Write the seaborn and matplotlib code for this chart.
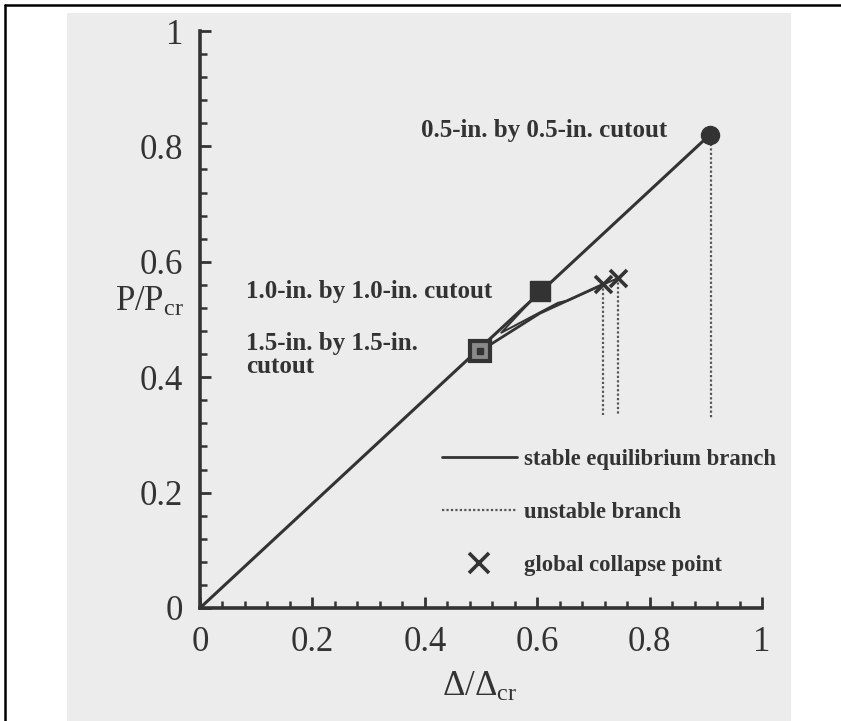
import matplotlib
matplotlib.use("Agg")
import matplotlib.pyplot as plt
import seaborn as sns
import numpy as np
import pandas as pd
from matplotlib.lines import Line2D
from matplotlib.patches import Rectangle

# ---- data ----
stable_x = [0.0, 0.907]
stable_y = [0.0, 0.820]

branch15_x = [0.498, 0.605, 0.717]
branch15_y = [0.445, 0.511, 0.561]

branch10_x = [0.605, 0.536, 0.637, 0.655, 0.744]
branch10_y = [0.549, 0.477, 0.529, 0.533, 0.572]

circle_pt = (0.907, 0.820)      # 0.5-in cutout
square_pt = (0.605, 0.549)      # 1.0-in cutout
boxdot_pt = (0.498, 0.445)      # 1.5-in cutout

collapse_x = [0.717, 0.744]
collapse_y = [0.561, 0.572]

unstable_x = [0.717, 0.744, 0.909]
unstable_top = [0.561, 0.572, 0.820]
unstable_bot = [0.335, 0.335, 0.330]

xticks = [0, 0.2, 0.4, 0.6, 0.8, 1]
xticklabels = ["0", "0.2", "0.4", "0.6", "0.8", "1"]
yticks = [0, 0.2, 0.4, 0.6, 0.8, 1]
yticklabels = ["0", "0.2", "0.4", "0.6", "0.8", "1"]

legend_labels = ["stable equilibrium branch", "unstable branch", "global collapse point"]

# ---- style ----
sns.set_theme(style="ticks")
plt.rcParams["font.family"] = ["Liberation Serif", "DejaVu Serif"]
plt.rcParams["mathtext.fontset"] = "custom"
plt.rcParams["mathtext.rm"] = "Liberation Serif"
plt.rcParams["mathtext.it"] = "Liberation Serif"
plt.rcParams["mathtext.bf"] = "Liberation Serif:bold"

INK = "#333333"
W, H = 841, 721
fig = plt.figure(figsize=(W / 100, H / 100), dpi=100)
fig.patch.set_facecolor("white")

# scanned-page background and frame
fig.patches.append(Rectangle((67 / W, 0), (791 - 67) / W, 1 - 13 / H,
                             transform=fig.transFigure, facecolor="#ececec",
                             edgecolor="none", zorder=-10))
fig.lines.append(Line2D([5 / W, 1], [1 - 5 / H, 1 - 5 / H], transform=fig.transFigure,
                        color="black", lw=1.8))
fig.lines.append(Line2D([5 / W, 5 / W], [0, 1 - 5 / H], transform=fig.transFigure,
                        color="black", lw=1.8))

ax = fig.add_axes([200 / W, 1 - 608 / H, 562 / W, 577 / H])
ax.set_facecolor("none")

# stable branch (main line)
sns.lineplot(x=stable_x, y=stable_y, ax=ax, color=INK, lw=2.2, sort=False, estimator=None)
# post-buckling branches
sns.lineplot(x=branch15_x, y=branch15_y, ax=ax, color=INK, lw=2.0, sort=False, estimator=None)
sns.lineplot(x=branch10_x, y=branch10_y, ax=ax, color=INK, lw=1.4, sort=False, estimator=None)

# unstable branches (dotted verticals)
for xv, yt, yb in zip(unstable_x, unstable_top, unstable_bot):
    ax.plot([xv, xv], [yt, yb], color="#555555", lw=1.6, ls=(0, (1, 1)))

# bifurcation markers
ax.plot(*circle_pt, marker="o", ms=13, color=INK, zorder=5)
ax.plot(*square_pt, marker="s", ms=14, color=INK, zorder=5)
ax.plot(*boxdot_pt, marker="s", ms=14, mfc="#8a8a8a", mec=INK, mew=3, zorder=5)
ax.plot(*boxdot_pt, marker="s", ms=4, color=INK, zorder=6)

# collapse points
sns.scatterplot(x=collapse_x, y=collapse_y, ax=ax, marker="x", s=150, color=INK,
                linewidth=2.6, zorder=6)

# annotations
tkw = dict(color=INK, fontsize=18, fontweight="bold", va="center", ha="left")
ax.text(0.393, 0.828, "0.5-in. by 0.5-in. cutout", **tkw)
ax.text(0.082, 0.549, "1.0-in. by 1.0-in. cutout", **tkw)
ax.text(0.082, 0.459, "1.5-in. by 1.5-in.", **tkw)
ax.text(0.082, 0.419, "cutout", **tkw)

# legend
handles = [
    Line2D([], [], color=INK, lw=2.0),
    Line2D([], [], color="#555555", lw=1.6, ls=(0, (1, 1))),
    Line2D([], [], color=INK, lw=0, marker="x", ms=14, mew=2.6),
]
leg = ax.legend(handles, legend_labels, loc="upper left",
                bbox_to_anchor=((442 - 200) / 562, (608 - 449) / 577),
                frameon=False, fontsize=16.3, handlelength=3.3, handletextpad=0.3,
                labelspacing=1.42, borderpad=0, borderaxespad=0)
for t in leg.get_texts():
    t.set_color(INK)
    t.set_fontweight("bold")

# axes
ax.set_xlim(0, 1)
ax.set_ylim(0, 1)
ax.set_xticks(xticks)
ax.set_xticklabels(xticklabels)
ax.set_yticks(yticks)
ax.set_yticklabels(yticklabels)
ax.set_xticks(np.arange(0, 1.0001, 0.04), minor=True)
ax.set_yticks(np.arange(0, 1.0001, 0.04), minor=True)
ax.tick_params(which="major", direction="in", length=8, width=2.0, colors=INK,
               labelsize=25, pad=13)
ax.tick_params(which="minor", direction="in", length=5, width=1.8, colors=INK)
ax.tick_params(axis="y", which="major", pad=12)
for lab in ax.get_xticklabels() + ax.get_yticklabels():
    lab.set_color(INK)
for s in ["top", "right"]:
    ax.spines[s].set_visible(False)
for s in ["left", "bottom"]:
    ax.spines[s].set_linewidth(2.6)
    ax.spines[s].set_color(INK)
    ax.spines[s].set_capstyle("projecting")

ax.set_xlabel(r"$\Delta/\Delta_{\mathrm{cr}}$", fontsize=25, color=INK)
ax.xaxis.set_label_coords((480 - 200) / 562, -(671 - 608) / 577)
ax.set_ylabel(r"$\mathrm{P/P_{cr}}$", fontsize=25, color=INK, rotation=0,
              va="center", ha="center")
ax.yaxis.set_label_coords((150 - 200) / 562, (608 - 302) / 577)

fig.savefig("out.png", dpi=100)
